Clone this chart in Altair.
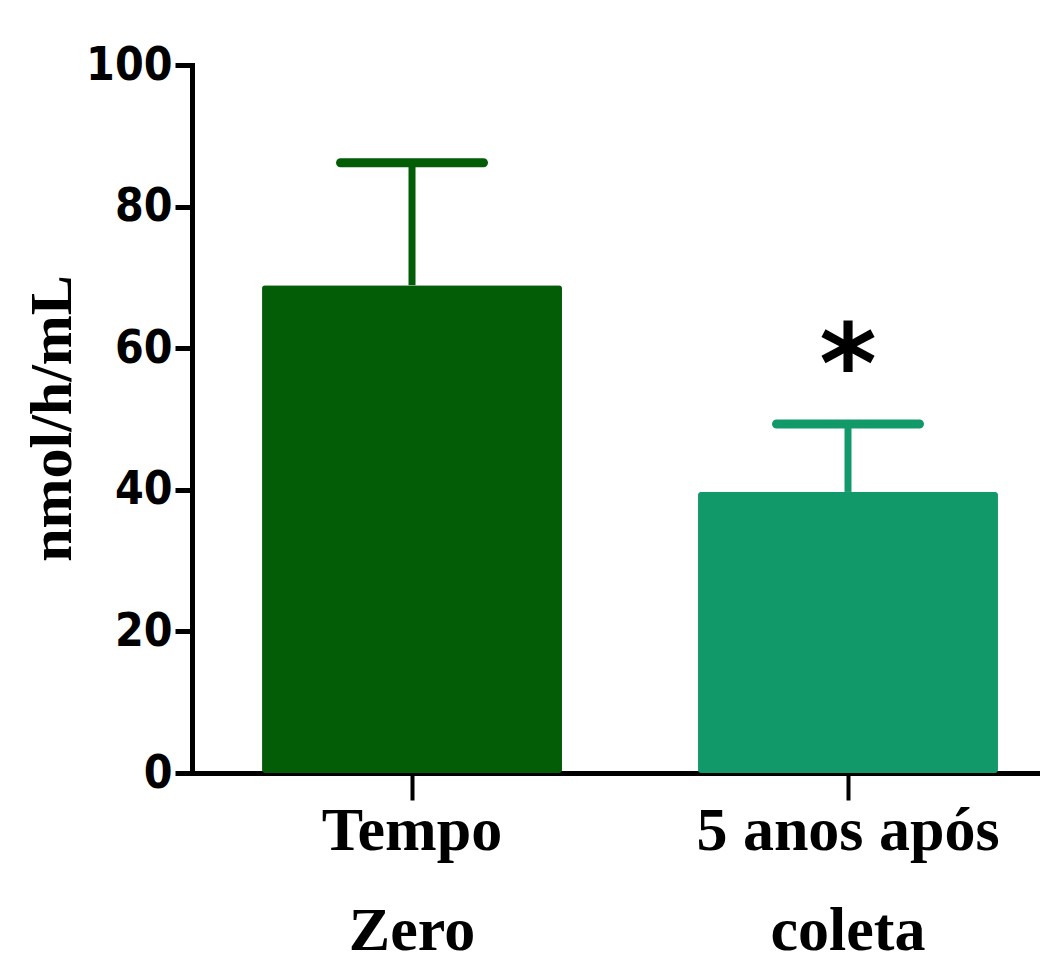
import altair as alt
import pandas as pd

categories = ["Tempo Zero", "5 anos após coleta"]
label_lines = [["Tempo", "Zero"], ["5 anos após", "coleta"]]
means = [68.9, 39.7]
errors = [17.3, 9.6]
colors = ["#035c06", "#12996a"]
sig_marks = ["", "*"]
y_ticks = [0, 20, 40, 60, 80, 100]

df = pd.DataFrame({"group": categories, "mean": means, "err": errors, "sig": sig_marks})
df["upper"] = df["mean"] + df["err"]

label_expr = " : ".join(
    f"datum.label == '{c}' ? {lines!r}" for c, lines in zip(categories, label_lines)
) + " : datum.label"

xscale = alt.Scale(domain=categories, paddingInner=0.312, paddingOuter=0.1285, align=0.625)
yscale = alt.Scale(domain=[0, 100], nice=False)

x_enc = alt.X(
    "group:N", scale=xscale, sort=categories, title=None,
    axis=alt.Axis(
        labelAngle=0, labelExpr=label_expr, labelFont="Liberation Serif",
        labelFontSize=62, labelFontWeight="bold", labelColor="black", labelLimit=0,
        labelLineHeight=100, labelPadding=0, tickSize=27, tickWidth=4,
        tickColor="black", domainColor="black", domainWidth=5, domainCap="square",
        labelBaseline="top",
    ),
)
y_enc = alt.Y(
    "mean:Q", scale=yscale, title="nmol/h/mL",
    axis=alt.Axis(
        values=y_ticks, grid=False, labelFont="Liberation Sans Narrow, DejaVu Sans Condensed, sans-serif",
        labelFontSize=46, labelFontWeight="bold", labelColor="black", labelPadding=3,
        tickSize=17, tickWidth=5, tickColor="black", domainColor="black", domainWidth=5,
        domainCap="square",
        titleFont="Liberation Serif", titleFontSize=60, titleFontWeight="bold",
        titleColor="black", titleAngle=270, titleBaseline="alphabetic", titleAlign="center",
        titleX=-122, titleY=353,
    ),
)
color_enc = alt.Color("group:N", scale=alt.Scale(domain=categories, range=colors), legend=None)

base = alt.Chart(df)

bars = base.mark_bar(cornerRadius=3, opacity=1).encode(x=x_enc, y=y_enc, color=color_enc)
stems = base.mark_rule(strokeWidth=7, opacity=1).encode(
    x=alt.X("group:N", scale=xscale, sort=categories),
    y="mean:Q", y2="upper:Q", color=color_enc,
)
caps = base.mark_tick(size=152, thickness=9, cornerRadius=4.5, opacity=1).encode(
    x=alt.X("group:N", scale=xscale, sort=categories),
    y=alt.Y("upper:Q", scale=yscale), color=color_enc,
)
stars = base.mark_text(
    font="DejaVu Sans", fontSize=110, fontWeight="bold", color="black",
    baseline="alphabetic", align="center", dy=-21,
).encode(
    x=alt.X("group:N", scale=xscale, sort=categories),
    y=alt.Y("upper:Q", scale=yscale), text="sig:N",
)

chart = (
    alt.layer(bars, stems, caps, stars)
    .properties(width=848, height=708, padding={"left": 192, "top": 65, "right": 0, "bottom": 193},
                autosize=alt.AutoSizeParams(type="none"), background="white")
    .configure_view(stroke=None)
)

chart.save("out.html", embed_options={"renderer": "svg", "actions": False})
